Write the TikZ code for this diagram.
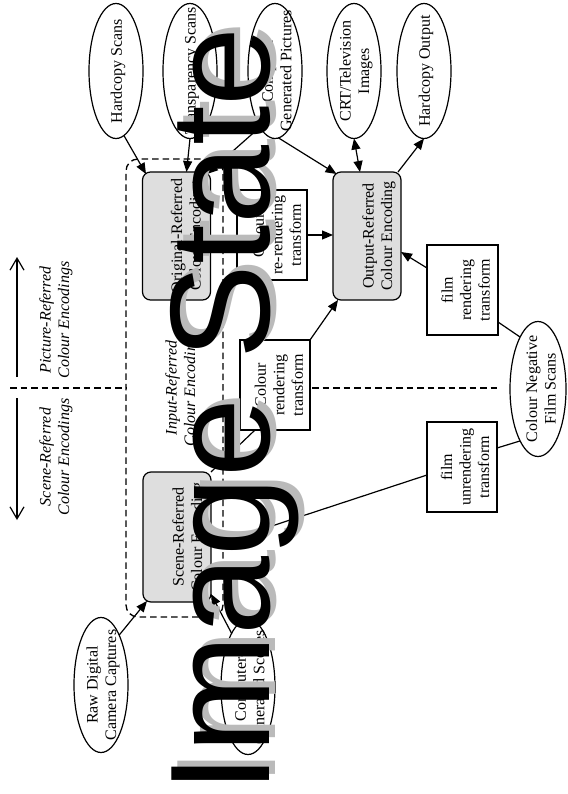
\documentclass[tikz,border=0pt]{standalone}
\usepackage{fontspec}
\setmainfont{Liberation Serif}
\newfontfamily\wmfont{Liberation Sans}
\usetikzlibrary{shapes.geometric,arrows.meta}

\begin{document}
\begin{tikzpicture}[x=1pt,y=-1pt,
  every node/.style={inner sep=0pt, outer sep=0pt},
  ln/.style={line width=1.2pt},
  arr/.style={ln, -{Triangle[length=11pt,width=9pt]}},
  darr/.style={ln, {Triangle[length=11pt,width=9pt]}-{Triangle[length=11pt,width=9pt]}},
  oval/.style={ellipse, draw, line width=1.2pt, minimum width=54pt, minimum height=135pt},
  enc/.style={draw, line width=1.2pt, rounded corners=8pt, fill=black!13, minimum width=68pt, minimum height=128pt},
  xform/.style={draw, line width=1.2pt, minimum width=70pt, minimum height=90pt},
  vtext/.style={rotate=90, align=center, font={\fontsize{16}{18.5}\selectfont}},
  vital/.style={rotate=90, align=center, font={\fontsize{16}{18.5}\selectfont\itshape}},
  divline/.style={line width=1.3pt, dash pattern=on 6.5pt off 4pt},
  vbarb/.style={line width=1.2pt, -{Straight Barb[length=12pt,width=14pt]}},
  wm/.style={rotate=90, anchor=base west, font={\wmfont\fontsize{142}{142}\selectfont}}
]
\fill[white] (0,0) rectangle (567,794);
\useasboundingbox (0,0) rectangle (567,794);

% input-referred region
\node[draw, divline, rounded corners=12pt, minimum width=97pt, minimum height=458pt] (inref) at (174.5,388) {};

% sources and outputs
\node[oval] (hs)  at (116,71) {};
\node[oval] (ts)  at (190,71) {};
\node[oval] (cgp) at (275,71) {};
\node[oval] (crt) at (354,71) {};
\node[oval] (ho)  at (424,71) {};
\node[oval, minimum width=56pt] (cnfs) at (538,389) {};
\node[oval] (raw) at (101,685) {};
\node[oval] (cgs) at (248,687) {};

\node[vtext] (hs-t)  at ([xshift=2pt]hs)  {Hardcopy Scans};
\node[vtext] (ts-t)  at ([xshift=2pt]ts)  {Transparency Scans};
\node[vtext] (cgp-t) at ([xshift=2pt]cgp) {Computer\\Generated Pictures};
\node[vtext] (crt-t) at ([xshift=2pt]crt) {CRT/Television\\Images};
\node[vtext] (ho-t)  at ([xshift=2pt]ho)  {Hardcopy Output};
\node[vtext] (cnfs-t) at ([xshift=3pt]cnfs) {Colour Negative\\Film Scans};
\node[vtext] (raw-t) at ([xshift=2pt]raw) {Raw Digital\\Camera Captures};
\node[vtext] (cgs-t) at ([xshift=2pt]cgs) {Computer-\\Generated Scenes};

% colour encodings
\node[enc] (orig) at (176.5,236) {};
\node[enc] (out) at (367,236) {};
\node[enc, minimum height=130pt] (scene) at (177,537) {};
\node[vtext] (orig-t)  at ([xshift=11pt]orig)  {Original-Referred\\Colour Encoding};
\node[vtext] (out-t)   at ([xshift=12pt]out)   {Output-Referred\\Colour Encoding};
\node[vtext] (scene-t) at ([xshift=12pt]scene) {Scene-Referred\\Colour Encoding};

% transforms
\node[xform] (rerend) at (272,235) {};
\node[xform] (rend) at (275,385) {};
\node[xform, minimum width=71pt] (frend) at (462.5,290) {};
\node[xform] (funrend) at (462,467) {};
\node[vtext] (rerend-t)  at ([xshift=5pt]rerend)  {Colour\\re-rendering\\transform};
\node[vtext] (rend-t)    at ([xshift=4pt]rend)    {Colour\\rendering\\transform};
\node[vtext] (frend-t)   at ([xshift=3pt]frend)   {film\\rendering\\transform};
\node[vtext] (funrend-t) at ([xshift=3pt]funrend) {film\\unrendering\\transform};

% divider and direction labels
\coordinate (dl) at (10,388);
\coordinate (dr1) at (312,388);
\coordinate (dr2) at (498,388);
\draw[divline] (dl) -- (inref.west);
\draw[divline] (dr1) -- (dr2);
\coordinate (pu0) at (17,377);
\coordinate (pu1) at (17,257);
\coordinate (sd0) at (17,398);
\coordinate (sd1) at (17,520);
\draw[vbarb] (pu0) -- (pu1);
\draw[vbarb] (sd0) -- (sd1);
\node[vital] (pic-l) at (56,320) {Picture-Referred\\Colour Encodings};
\node[vital] (sce-l) at (56,457) {Scene-Referred\\Colour Encodings};
\node[vital] (inp-l) at (182,388) {Input-Referred\\Colour Encodings};

% connectors
\draw[arr] (hs.277) -- ([xshift=3.5pt,yshift=-2pt]orig.north west);
\draw[arr] (ts.south) -- ([xshift=10pt]orig.north);
\draw[arr] (cgp.255) -- ([xshift=-3.5pt,yshift=-2pt]orig.north east);
\draw[arr] (cgp.273) -- ([xshift=3.5pt,yshift=-2pt]out.north west);
\draw[darr] (crt.south) -- ([xshift=-7pt]out.north);
\draw[arr] ([xshift=-3pt]out.north east) -- (ho.south);
\draw[ln] (orig.east) -- (orig.east -| rerend.west);
\draw[arr] (rerend.east) -- (rerend.east -| out.west);
\draw[arr] (rend.north east) -- ([xshift=5pt]out.south west);
\draw[arr] ([yshift=22pt]frend.west) -- ([yshift=-16pt]out.east);
\draw[ln] (cnfs.109) -- ([yshift=13pt]frend.south east);
\draw[ln] (cnfs.251) -- ([yshift=19pt]funrend.east);
\draw[arr] ([yshift=-8pt]funrend.west) -- ([yshift=-9pt]scene.east);
\draw[ln] (scene.north east) -- ([xshift=15pt]rend.south west);
\draw[arr] (raw.70) -- ([xshift=4pt,yshift=1pt]scene.south west);
\draw[arr] (cgs.107) -- ([yshift=8pt]scene.south east);

% overprinted title with its shadow
\node[wm, text=black!27] (wm-s) at (275,787) {Image State};
\node[wm, text=black] (wm-t) at (269,793) {Image State};
\end{tikzpicture}
\end{document}
